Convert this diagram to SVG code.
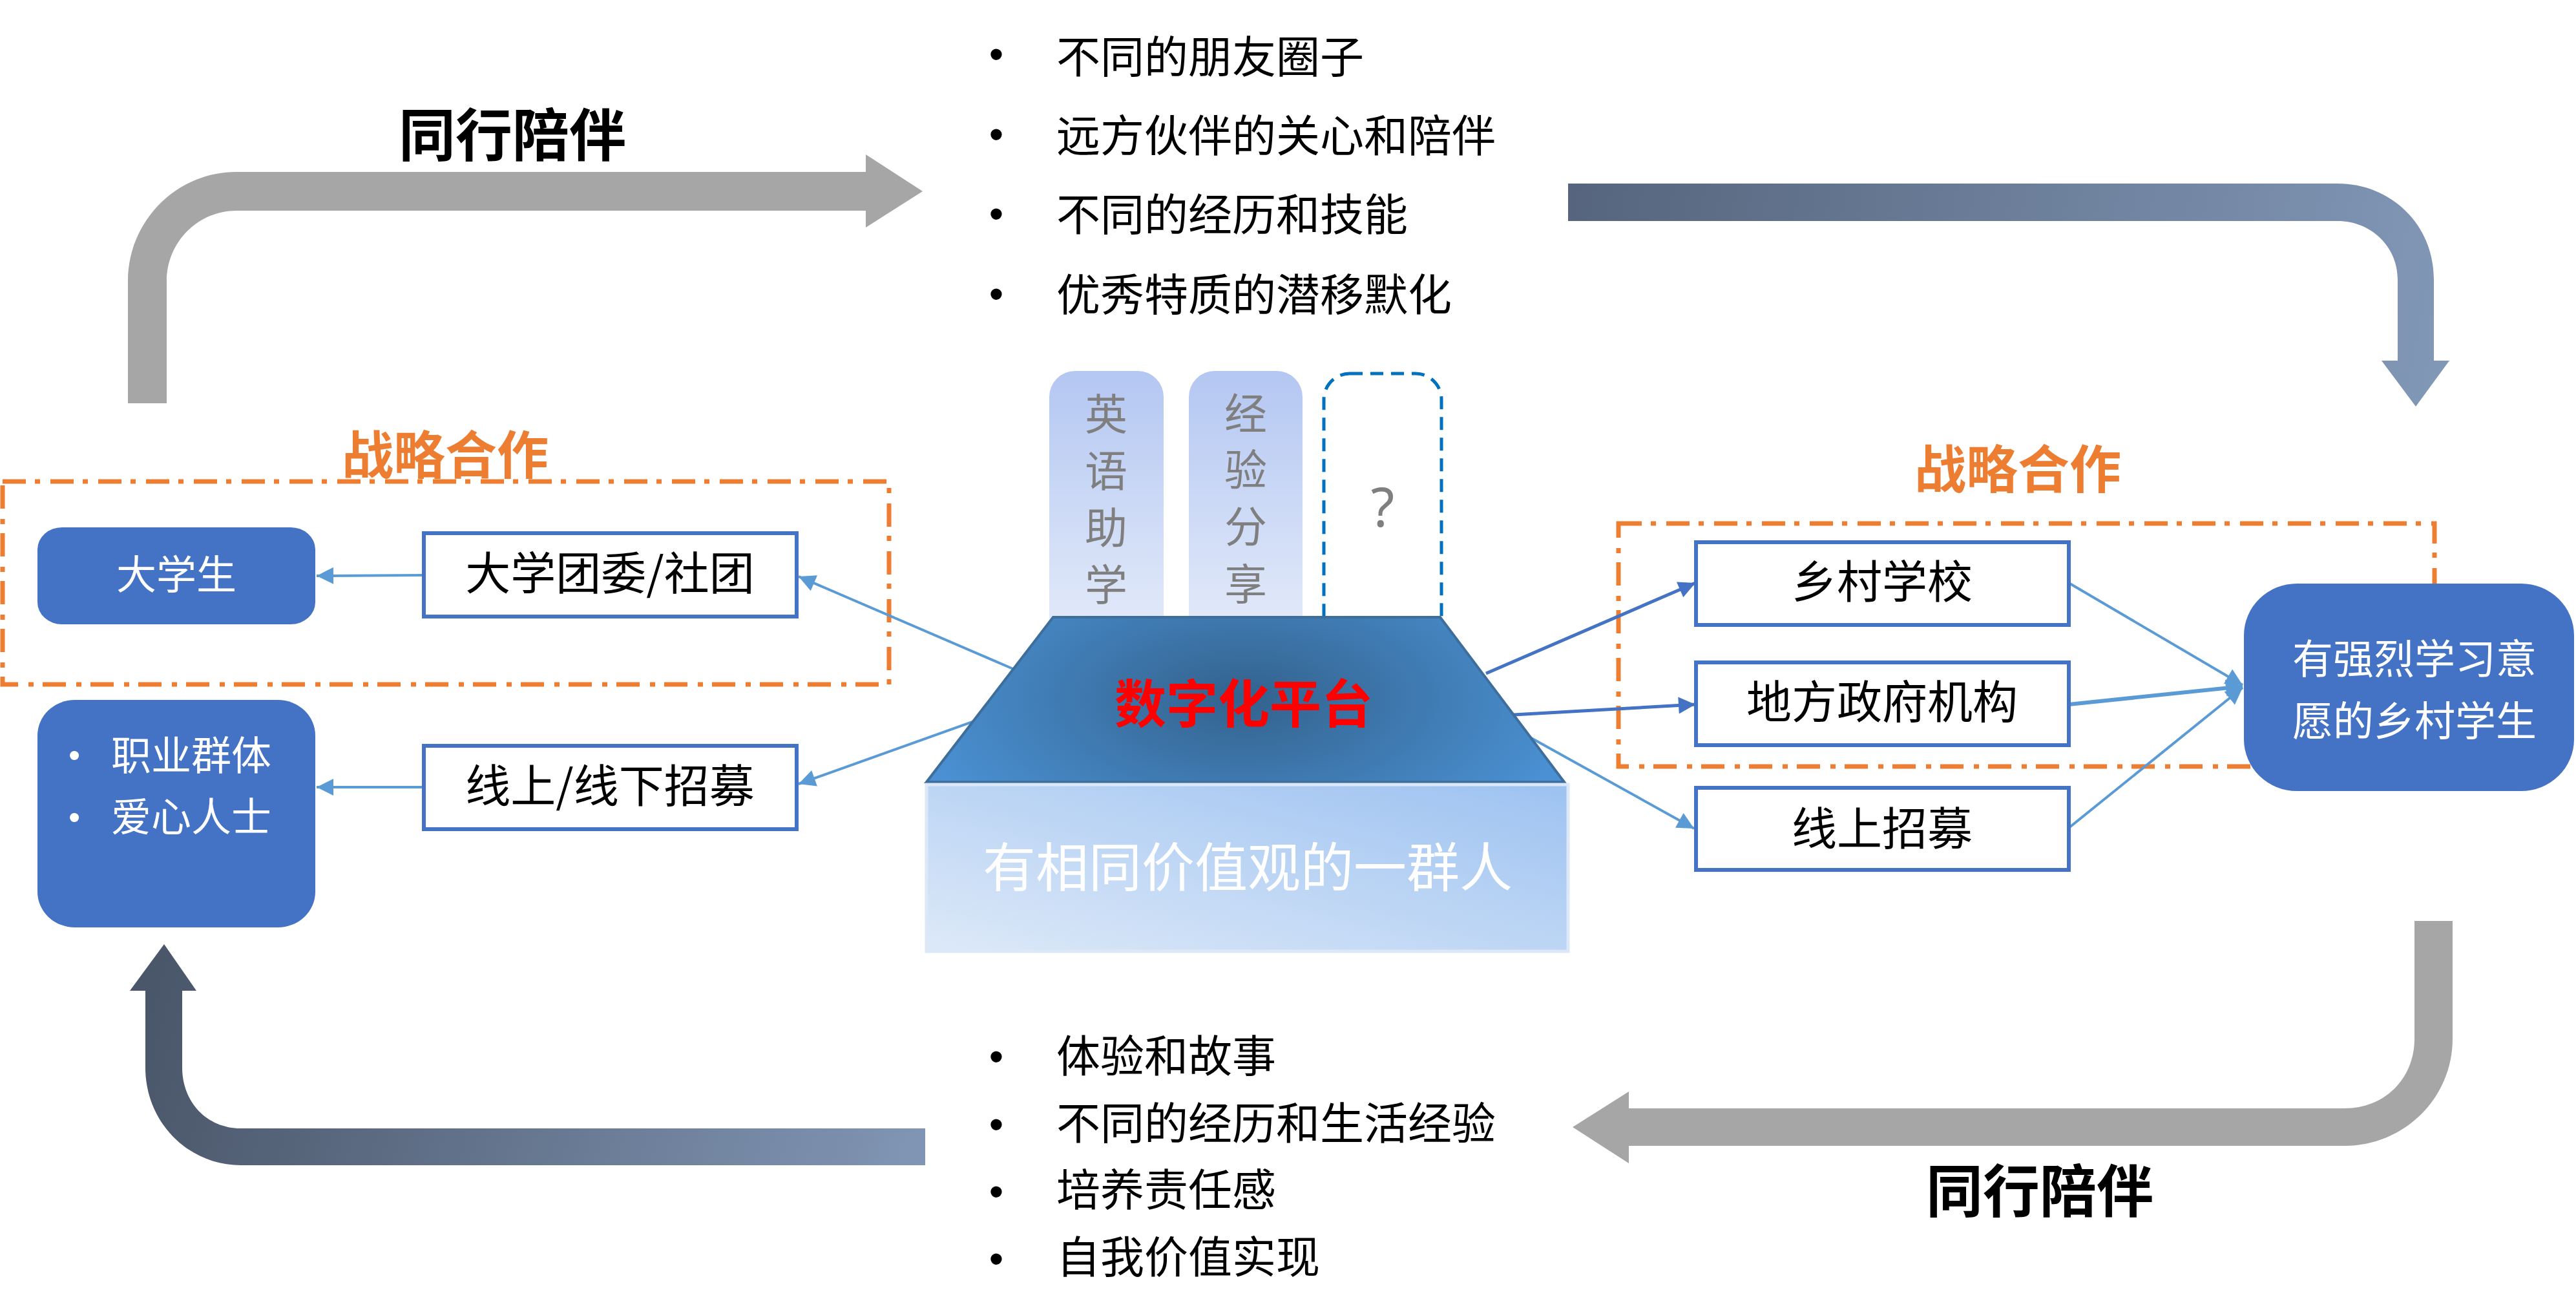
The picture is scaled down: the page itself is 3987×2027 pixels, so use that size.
<svg xmlns="http://www.w3.org/2000/svg" width="3987" height="2027" viewBox="0 0 3987 2027">
<style>
text{font-family:"Noto Sans CJK SC","Noto Sans",sans-serif;}
.t68{font-size:68px;fill:#000;}
.bl{font-family:"Liberation Sans",Arial,sans-serif;font-size:64px;text-anchor:middle;}
.node-t{font-size:70px;fill:#000;text-anchor:middle;}
.wt{font-size:62px;fill:#fff;}
.wb{font-family:"Liberation Sans",Arial,sans-serif;font-size:52px;fill:#fff;text-anchor:middle;}
.head{font-size:88px;font-weight:bold;fill:#000;text-anchor:middle;}
.org{font-size:80px;font-weight:bold;fill:#ED7D31;text-anchor:middle;}
.vert{font-size:66px;fill:#7F7F7F;text-anchor:middle;}
.box{fill:#fff;stroke:#4472C4;stroke-width:6;}
.blue{fill:#4472C4;}
.dd{fill:none;stroke:#ED7D31;stroke-width:7;stroke-dasharray:36 14 8 16;}
.cl{fill:none;stroke:#5B9BD5;stroke-width:4;marker-end:url(#ah1);}
.cd{fill:none;stroke:#4472C4;stroke-width:5;marker-end:url(#ah2);}
</style>
<defs>
<marker id="ah1" viewBox="0 0 10 10" refX="10" refY="5" markerUnits="userSpaceOnUse" markerWidth="30" markerHeight="26" orient="auto"><path d="M0,0 L10,5 L0,10 Z" fill="#5B9BD5"/></marker>
<marker id="ah2" viewBox="0 0 10 10" refX="10" refY="5" markerUnits="userSpaceOnUse" markerWidth="30" markerHeight="26" orient="auto"><path d="M0,0 L10,5 L0,10 Z" fill="#4472C4"/></marker>
<linearGradient id="gTR" gradientUnits="userSpaceOnUse" x1="2427" y1="300" x2="3767" y2="560"><stop offset="0" stop-color="#56657D"/><stop offset="1" stop-color="#8197B6"/></linearGradient>
<linearGradient id="gBL" gradientUnits="userSpaceOnUse" x1="254" y1="1461" x2="1432" y2="1803"><stop offset="0" stop-color="#4A5669"/><stop offset="1" stop-color="#8196B5"/></linearGradient>
<radialGradient id="gPlat" gradientUnits="userSpaceOnUse" cx="1925" cy="1080" r="520" gradientTransform="translate(1925 1080) scale(1 0.5) translate(-1925 -1080)"><stop offset="0" stop-color="#33628D"/><stop offset="1" stop-color="#4A90D2"/></radialGradient>
<linearGradient id="gBase" x1="0" y1="1" x2="1" y2="0"><stop offset="0" stop-color="#DDE9F8"/><stop offset="1" stop-color="#9DC2F1"/></linearGradient>
<linearGradient id="gTab" x1="0" y1="0" x2="0" y2="1"><stop offset="0" stop-color="#B4C7F2"/><stop offset="1" stop-color="#E5ECFA"/></linearGradient>
</defs>

<g id="flow-arrows">
<path id="arrow-top-left" d="M198,624 L198,435 C198,342 273,266 366,266 L1340,266 L1340,239 L1428,296 L1340,352 L1340,326 L366,326 C306,326 258,375 258,435 L258,624 Z" fill="#A6A6A6"/>
<path id="arrow-top-right" d="M2427,284 L3618,284 C3700,284 3767,347 3767,432 L3767,558 L3791,558 L3739,629 L3686,558 L3711,558 L3711,432 C3711,382 3670,342 3618,342 L2427,342 Z" fill="url(#gTR)"/>
<path id="arrow-bottom-right" d="M3737,1425 L3796,1425 L3796,1607 C3796,1700 3720,1773 3629,1773 L2521,1773 L2521,1800 L2434,1744 L2521,1689 L2521,1715 L3629,1715 C3690,1715 3737,1670 3737,1607 Z" fill="#A6A6A6"/>
<path id="arrow-bottom-left" d="M1432,1746 L1432,1803 L373,1803 C290,1803 225,1735 225,1652 L225,1533 L201,1533 L254,1461 L304,1533 L282,1533 L282,1652 C282,1705 320,1746 373,1746 Z" fill="url(#gBL)"/>
</g>

<g id="labels">
<text class="head" x="793" y="241">同行陪伴</text>
<text class="head" x="3157" y="1875">同行陪伴</text>
<text class="org" x="689" y="733">战略合作</text>
<text class="org" x="3123" y="755">战略合作</text>
</g>

<g id="top-bullets" class="t68">
<text class="bl" x="1542" y="106">•</text><text x="1635" y="113">不同的朋友圈子</text>
<text class="bl" x="1542" y="230">•</text><text x="1635" y="235">远方伙伴的关心和陪伴</text>
<text class="bl" x="1542" y="353">•</text><text x="1635" y="357">不同的经历和技能</text>
<text class="bl" x="1542" y="477">•</text><text x="1635" y="481">优秀特质的潜移默化</text>
</g>

<g id="bottom-bullets" class="t68">
<text class="bl" x="1542" y="1657">•</text><text x="1635" y="1659">体验和故事</text>
<text class="bl" x="1542" y="1762">•</text><text x="1635" y="1763">不同的经历和生活经验</text>
<text class="bl" x="1542" y="1866">•</text><text x="1635" y="1866">培养责任感</text>
<text class="bl" x="1542" y="1970">•</text><text x="1635" y="1970">自我价值实现</text>
</g>

<g id="partner-frames">
<rect id="frame-left" class="dd" x="4" y="745" width="1372" height="314"/>
<rect id="frame-right" class="dd" x="2505" y="810" width="1263" height="376"/>
</g>

<g id="connectors">
<line class="cl" x1="655" y1="890" x2="490" y2="891"/>
<line class="cl" x1="1568" y1="1035" x2="1236" y2="892"/>
<line class="cl" x1="655" y1="1218" x2="490" y2="1218"/>
<line class="cl" x1="1533" y1="1107" x2="1236" y2="1213"/>
<line class="cd" x1="2300" y1="1042" x2="2624" y2="902"/>
<line class="cd" x1="2325" y1="1107" x2="2624" y2="1090"/>
<line class="cl" x1="2352" y1="1132" x2="2622" y2="1282"/>
<line class="cl" x1="3202" y1="902" x2="3471" y2="1060"/>
<line class="cl" style="stroke-width:6" x1="3202" y1="1090" x2="3471" y2="1062"/>
<line class="cl" x1="3202" y1="1281" x2="3471" y2="1064"/>
</g>

<g id="node-daxuesheng">
<rect class="blue" x="58" y="816" width="430" height="150" rx="38" ry="34"/>
<text class="wt" x="273" y="912" text-anchor="middle">大学生</text>
</g>
<g id="node-zhiye">
<rect class="blue" x="58" y="1083" width="430" height="352" rx="58" ry="55"/>
<text class="wb" x="115" y="1186">•</text><text class="wt" x="172" y="1192">职业群体</text>
<text class="wb" x="115" y="1282">•</text><text class="wt" x="172" y="1287">爱心人士</text>
</g>
<g id="node-tuanwei">
<rect class="box" x="656" y="825" width="577" height="129"/>
<text class="node-t" x="944" y="913">大学团委/社团</text>
</g>
<g id="node-zhaomu-left">
<rect class="box" x="656" y="1154" width="577" height="129"/>
<text class="node-t" x="944" y="1242">线上/线下招募</text>
</g>
<g id="node-xiangcun">
<rect class="box" x="2625" y="839" width="577" height="128"/>
<text class="node-t" x="2913" y="926">乡村学校</text>
</g>
<g id="node-zhengfu">
<rect class="box" x="2625" y="1025" width="577" height="128"/>
<text class="node-t" x="2913" y="1112">地方政府机构</text>
</g>
<g id="node-zhaomu-right">
<rect class="box" x="2625" y="1219" width="577" height="127"/>
<text class="node-t" x="2913" y="1308">线上招募</text>
</g>
<g id="node-students">
<rect class="blue" x="3473" y="903" width="511" height="321" rx="82" ry="80"/>
<text class="wt" x="3737" y="1042" text-anchor="middle" style="font-size:63px">有强烈学习意</text>
<text class="wt" x="3737" y="1138" text-anchor="middle" style="font-size:63px">愿的乡村学生</text>
</g>

<g id="node-platform">
<rect x="1624" y="574" width="177" height="420" rx="40" fill="url(#gTab)"/>
<text class="vert" x="1712" y="665">英</text>
<text class="vert" x="1712" y="753">语</text>
<text class="vert" x="1712" y="841">助</text>
<text class="vert" x="1712" y="929">学</text>
<rect x="1840" y="574" width="176" height="420" rx="40" fill="url(#gTab)"/>
<text class="vert" x="1928" y="664">经</text>
<text class="vert" x="1928" y="751">验</text>
<text class="vert" x="1928" y="839">分</text>
<text class="vert" x="1928" y="928">享</text>
<rect x="2049" y="578" width="182" height="420" rx="40" fill="none" stroke="#0070C0" stroke-width="5" stroke-dasharray="20 12"/>
<text x="2140" y="815" text-anchor="middle" style="font-family:'Noto Sans',sans-serif;font-size:84px;fill:#7F7F7F">?</text>
<path d="M1630,955 L2229,955 L2421,1210 L1434,1210 Z" fill="url(#gPlat)" stroke="#3E6E9B" stroke-width="4"/>
<text x="1925" y="1118" text-anchor="middle" style="font-size:80px;font-weight:bold;fill:#FF0000">数字化平台</text>
<rect x="1434" y="1214" width="993" height="258" fill="url(#gBase)" stroke="#DCE8F8" stroke-width="5"/>
<text x="1931" y="1372" text-anchor="middle" style="font-size:82px;fill:#fff">有相同价值观的一群人</text>
</g>
</svg>
